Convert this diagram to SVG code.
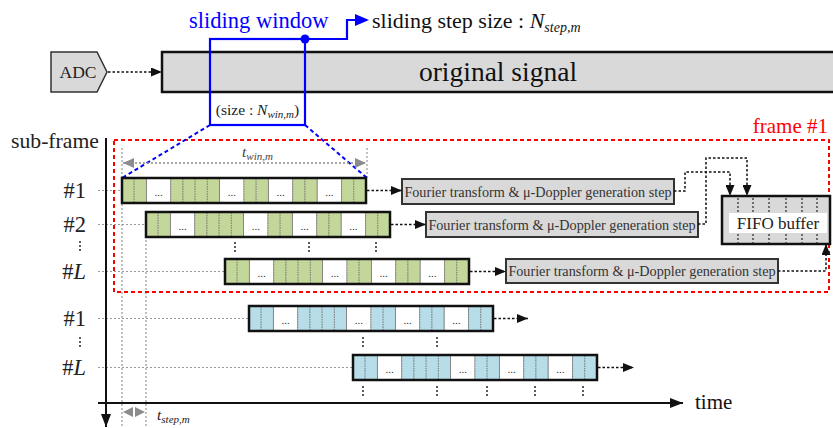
<svg xmlns="http://www.w3.org/2000/svg" xmlns:xlink="http://www.w3.org/1999/xlink" width="833" height="428" viewBox="0 0 833 428">
<style>
text{font-family:"Liberation Serif","Times New Roman",serif;}
.cell{stroke:#666;stroke-width:0.7;stroke-dasharray:1.5 1}
.wc{fill:#fff;stroke:#666;stroke-width:0.7}
.dots{font-size:11px;fill:#333;text-anchor:middle}
.outline{fill:none;stroke:#111;stroke-width:2.5}
.conn{fill:none;stroke:#111;stroke-width:1.5;stroke-dasharray:2.5 2}
.guide{fill:none;stroke:#999;stroke-width:1.2;stroke-dasharray:2 2}
.vdots{stroke:#333;stroke-width:1.6;stroke-dasharray:2 2}
.box{fill:#d9d9d9;stroke:#333;stroke-width:2}
.ft{font-size:14.2px;fill:#333;text-anchor:middle}
.lbl{font-size:22.5px;fill:#222;text-anchor:end}
</style>
<defs>
<marker id="ah" markerUnits="userSpaceOnUse" markerWidth="11" markerHeight="9" refX="11" refY="4.5" orient="auto"><path d="M0,0 L11,4.5 L0,9 z" fill="#111"/></marker>
<marker id="ahg" markerUnits="userSpaceOnUse" markerWidth="11" markerHeight="10" refX="11" refY="5" orient="auto-start-reverse"><path d="M0,0 L11,5 L0,10 z" fill="#8c8c8c"/></marker>
<marker id="ahb" markerUnits="userSpaceOnUse" markerWidth="13" markerHeight="10" refX="13" refY="5" orient="auto"><path d="M0,0 L13,5 L0,10 z" fill="#111"/></marker>
<g id="bar">
<rect class="cell" x="0" y="0" width="12.2" height="25"/>
<rect class="cell" x="12.2" y="0" width="12.2" height="25"/>
<rect class="wc" x="24.4" y="0" width="24.4" height="25"/>
<rect class="cell" x="48.8" y="0" width="12.2" height="25"/>
<rect class="cell" x="61" y="0" width="12.2" height="25"/>
<rect class="cell" x="73.2" y="0" width="12.2" height="25"/>
<rect class="cell" x="85.4" y="0" width="12.2" height="25"/>
<rect class="wc" x="97.6" y="0" width="24.4" height="25"/>
<rect class="cell" x="122" y="0" width="12.2" height="25"/>
<rect class="cell" x="134.2" y="0" width="12.2" height="25"/>
<rect class="wc" x="146.4" y="0" width="24.4" height="25"/>
<rect class="cell" x="170.8" y="0" width="12.2" height="25"/>
<rect class="cell" x="183" y="0" width="12.2" height="25"/>
<rect class="wc" x="195.2" y="0" width="24.4" height="25"/>
<rect class="cell" x="219.6" y="0" width="12.2" height="25"/>
<rect class="cell" x="231.8" y="0" width="12.2" height="25"/>
<text class="dots" x="36.6" y="18">...</text>
<text class="dots" x="109.8" y="18">...</text>
<text class="dots" x="158.6" y="18">...</text>
<text class="dots" x="207.4" y="18">...</text>
<rect class="outline" x="0" y="0" width="244" height="25"/>
</g>
</defs>
<rect width="833" height="428" fill="#fff"/>

<!-- guides -->
<g id="guides">
<line class="guide" x1="122" y1="148" x2="122" y2="428"/>
<line class="guide" x1="146" y1="212" x2="146" y2="428"/>
<line class="guide" x1="367" y1="148" x2="367" y2="178"/>
<line class="guide" x1="98" y1="190.5" x2="122" y2="190.5"/>
<line class="guide" x1="98" y1="224.5" x2="146" y2="224.5"/>
<line class="guide" x1="98" y1="271.5" x2="225" y2="271.5"/>
<line class="guide" x1="98" y1="318.5" x2="249" y2="318.5"/>
<line class="guide" x1="98" y1="367.5" x2="353" y2="367.5"/>
</g>

<!-- frame -->
<g id="frame1">
<rect x="114" y="140" width="715" height="152" fill="none" stroke="#ff0000" stroke-width="2" stroke-dasharray="4 3"/>
<text x="828" y="133" font-size="21" fill="#ff0000" text-anchor="end">frame #1</text>
</g>

<!-- axes -->
<g id="axes">
<line x1="106" y1="138" x2="106" y2="427" stroke="#111" stroke-width="2" marker-end="url(#ahb)"/>
<line x1="98" y1="403" x2="683" y2="403" stroke="#111" stroke-width="2" marker-end="url(#ahb)"/>
<text x="695" y="409" font-size="21" fill="#111">time</text>
<text x="11" y="148" font-size="21.7" fill="#222">sub-frame</text>
</g>

<!-- row labels -->
<g id="labels">
<text class="lbl" x="86" y="198">#1</text>
<text class="lbl" x="86" y="232">#2</text>
<line class="vdots" x1="80" y1="241" x2="80" y2="252"/>
<text class="lbl" x="86" y="279"><tspan>#</tspan><tspan font-style="italic">L</tspan></text>
<text class="lbl" x="86" y="326">#1</text>
<line class="vdots" x1="80" y1="337" x2="80" y2="348"/>
<text class="lbl" x="86" y="375"><tspan>#</tspan><tspan font-style="italic">L</tspan></text>
</g>

<!-- ADC -->
<g id="adc">
<polygon points="51,52 97,52 107,72 97,92 51,92" fill="#d9d9d9" stroke="#333" stroke-width="1.5"/>
<text x="78" y="78" font-size="17.5" fill="#222" text-anchor="middle">ADC</text>
</g>

<!-- original signal -->
<g id="signal">
<rect x="162" y="52" width="690" height="40" fill="#d9d9d9" stroke="#111" stroke-width="2.5"/>
<text x="498" y="81" font-size="27.5" fill="#111" text-anchor="middle">original signal</text>
</g>

<!-- sliding window -->
<g id="window">
<text x="189" y="28" font-size="22.5" fill="#0000ff">sliding window</text>
<rect x="210" y="39" width="95" height="86" fill="none" stroke="#0000ff" stroke-width="2.2"/>
<polyline points="305,39 347,39 347,20 356,20" fill="none" stroke="#0000ff" stroke-width="2.2"/>
<polygon points="355,14 369,20 355,26" fill="#0000ff"/>
<circle cx="305" cy="39" r="4.5" fill="#0000ff"/>
<text x="257.5" y="115" font-size="15.5" fill="#222" text-anchor="middle">(size : <tspan font-style="italic">N</tspan><tspan font-style="italic" font-size="11" dy="3">win,m</tspan><tspan dy="-3">)</tspan></text>
<line x1="210" y1="125" x2="122" y2="178" stroke="#0000ff" stroke-width="2" stroke-dasharray="4 3"/>
<line x1="305" y1="125" x2="367" y2="178" stroke="#0000ff" stroke-width="2" stroke-dasharray="4 3"/>
</g>
<g id="stepsize">
<text x="372" y="28" font-size="22" fill="#111">sliding step size : <tspan font-style="italic">N</tspan><tspan font-style="italic" font-size="14" dy="4">step,m</tspan></text>
</g>

<!-- t_win -->
<g id="twin">
<line x1="123" y1="163" x2="366" y2="163" stroke="#8c8c8c" stroke-width="1.3" stroke-dasharray="2 2" marker-start="url(#ahg)" marker-end="url(#ahg)"/>
<text x="242" y="157" font-size="15.5" font-style="italic" fill="#444">t<tspan font-size="11" dy="3">win,m</tspan></text>
</g>
<!-- t_step -->
<g id="tstep">
<polygon points="123,412 133,407 133,417" fill="#8c8c8c"/>
<polygon points="145,412 135,407 135,417" fill="#8c8c8c"/>
<text x="157" y="420" font-size="15.5" font-style="italic" fill="#222">t<tspan font-size="11" dy="3">step,m</tspan></text>
</g>

<!-- bars -->
<g id="bar-g1"><use xlink:href="#bar" href="#bar" x="122" y="178" fill="#c4d79b"/></g>
<g id="bar-g2"><use xlink:href="#bar" href="#bar" x="146" y="212" fill="#c4d79b"/></g>
<g id="bar-gL"><use xlink:href="#bar" href="#bar" x="225" y="259" fill="#c4d79b"/></g>
<g id="bar-b1"><use xlink:href="#bar" href="#bar" x="249" y="306" fill="#b7dde8"/></g>
<g id="bar-bL"><use xlink:href="#bar" href="#bar" x="353" y="355" fill="#b7dde8"/></g>

<!-- vertical dots -->
<g id="vdots">
<line class="vdots" x1="235" y1="242" x2="235" y2="253"/>
<line class="vdots" x1="309" y1="242" x2="309" y2="253"/>
<line class="vdots" x1="376" y1="242" x2="376" y2="253"/>
<line class="vdots" x1="363" y1="337" x2="363" y2="348"/>
<line class="vdots" x1="437" y1="337" x2="437" y2="348"/>
<line class="vdots" x1="363" y1="386" x2="363" y2="397"/>
<line class="vdots" x1="437" y1="386" x2="437" y2="397"/>
<line class="vdots" x1="487" y1="386" x2="487" y2="397"/>
<line class="vdots" x1="535" y1="386" x2="535" y2="397"/>
<line class="vdots" x1="583" y1="386" x2="583" y2="397"/>
</g>

<!-- Fourier boxes -->
<g id="ft1"><rect class="box" x="402" y="179" width="272" height="25"/><text class="ft" x="538" y="196.5">Fourier transform &amp; μ-Doppler generation step</text></g>
<g id="ft2"><rect class="box" x="426" y="212" width="272" height="25"/><text class="ft" x="562" y="229.5">Fourier transform &amp; μ-Doppler generation step</text></g>
<g id="ft3"><rect class="box" x="506" y="259" width="272" height="24"/><text class="ft" x="642" y="276">Fourier transform &amp; μ-Doppler generation step</text></g>

<!-- FIFO -->
<g id="fifo">
<rect x="722" y="196" width="108" height="48" fill="#d9d9d9" stroke="#111" stroke-width="2.5"/>
<g stroke="#333" stroke-width="1.3" stroke-dasharray="2 2">
<line x1="738" y1="198" x2="738" y2="243"/><line x1="753" y1="198" x2="753" y2="243"/><line x1="769" y1="198" x2="769" y2="243"/><line x1="786" y1="198" x2="786" y2="243"/><line x1="802" y1="198" x2="802" y2="243"/><line x1="817" y1="198" x2="817" y2="243"/>
</g>
<rect x="729" y="213" width="98" height="20" fill="#fff"/>
<text x="778" y="229" font-size="17" fill="#222" text-anchor="middle">FIFO buffer</text>
</g>

<!-- connectors -->
<g id="connectors">
<line class="conn" x1="108" y1="72" x2="162" y2="72" marker-end="url(#ah)"/>
<line class="conn" x1="367" y1="190.5" x2="402" y2="190.5" marker-end="url(#ah)"/>
<line class="conn" x1="391" y1="224.5" x2="426" y2="224.5" marker-end="url(#ah)"/>
<line class="conn" x1="470" y1="271.5" x2="506" y2="271.5" marker-end="url(#ah)"/>
<polyline class="conn" points="674,191 685,191 685,172 730,172 730,196" marker-end="url(#ah)"/>
<polyline class="conn" points="698,224 706,224 706,158 747,158 747,196" marker-end="url(#ah)"/>
<polyline class="conn" points="778,271 826,271 826,244" marker-end="url(#ah)"/>
<line class="conn" x1="494" y1="318.5" x2="528" y2="318.5" marker-end="url(#ah)"/>
<line class="conn" x1="598" y1="367.5" x2="634" y2="367.5" marker-end="url(#ah)"/>
</g>
</svg>
